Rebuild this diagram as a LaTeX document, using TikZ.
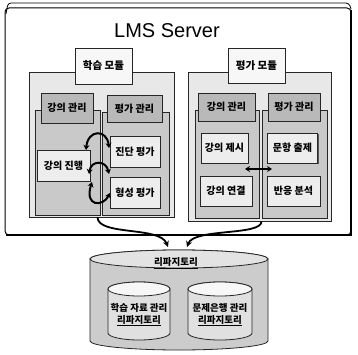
\documentclass[tikz,border=0pt]{standalone}
\usepackage{fontspec}
\setmainfont{Liberation Sans}
\newfontfamily\kr{Noto Sans CJK KR}
\usetikzlibrary{arrows.meta,shadows}
\begin{document}
\begin{tikzpicture}[x=1pt,y=-1pt,
  box/.style={draw=black!85, line width=0.6pt, inner sep=0pt,
    font=\kr\bfseries\fontsize{10}{11}\selectfont,
    drop shadow={shadow xshift=1.2pt, shadow yshift=-1.2pt, fill=black!65, opacity=1}},
  panel/.style={box, fill=gray!18},
  column/.style={box, fill=gray!42},
  hdr/.style={box, fill=gray!55},
  item/.style={box, fill=gray!14},
  tab/.style={box, fill=gray!6, font=\kr\bfseries\fontsize{10.5}{12}\selectfont},
  lbl/.style={inner sep=0pt, font=\kr\bfseries\fontsize{9.5}{10.5}\selectfont, align=center},
  flow/.style={line width=2pt, {Stealth[length=5pt,width=6pt]}-{Stealth[length=5pt,width=6pt]}},
  feed/.style={line width=1.8pt, -{Stealth[length=6pt,width=6pt]}},
  cylside/.style={draw=black!85, line width=0.8pt},
]
\useasboundingbox (0,0) rectangle (358,355);

% server frame
\draw[line width=1pt, rounded corners=4pt, fill=white] (5,8) rectangle (351,235);
\draw[line width=2pt] (6,235) -- (351,235) -- (351,10);
\draw[line width=0.8pt, rounded corners=3pt] (6,14) -- (8,3) -- (349,3) -- (351,9);
\node[font=\fontsize{20}{22}\selectfont, inner sep=0pt] (title) at (167,31) {LMS Server};

% learning module
\node[panel, minimum width=145pt, minimum height=145pt] (lpanel) at (101.5,144.5) {};
\node[column, minimum width=65pt, minimum height=105pt] (lcolL) at (67.5,162.5) {};
\node[column, minimum width=67pt, minimum height=103pt] (lcolR) at (135.5,163.5) {};
\node[hdr, minimum width=52pt, minimum height=30pt] (lh1) at (67,108) {강의 관리};
\node[hdr, minimum width=55pt, minimum height=27pt] (lh2) at (134.5,108.5) {평가 관리};
\node[item, minimum width=50pt, minimum height=31pt] (li1) at (135,151.5) {진단 평가};
\node[item, minimum width=53pt, minimum height=31pt] (li2) at (63.5,165.5) {강의 진행};
\node[item, minimum width=50pt, minimum height=31pt] (li3) at (135,192.5) {형성 평가};
\node[tab, minimum width=57pt, minimum height=36pt] (ltab) at (103.5,66) {학습 모듈};

\coordinate (a1) at (86,150);
\coordinate (a2) at (109,148);
\coordinate (b1) at (89,174);
\coordinate (b2) at (109,174);
\coordinate (c1) at (92,182);
\coordinate (c2) at (110,193);
\draw[flow] (a1) .. controls (88,129) and (107,129) .. (a2);
\draw[flow] (b1) .. controls (91,160) and (106,160) .. (b2);
\draw[flow] (c1) .. controls (84,207) and (103,207) .. (c2);

% evaluation module
\node[panel, minimum width=143pt, minimum height=149pt] (rpanel) at (259.5,146.5) {};
\node[column, minimum width=64pt, minimum height=108pt] (rcolL) at (227,164) {};
\node[column, minimum width=65pt, minimum height=108pt] (rcolR) at (294.5,164) {};
\node[hdr, minimum width=57pt, minimum height=28pt] (rh1) at (226.5,107) {강의 관리};
\node[hdr, minimum width=52pt, minimum height=28pt] (rh2) at (294,107) {평가 관리};
\node[item, minimum width=47pt, minimum height=30pt] (ri1) at (224.5,148) {강의 제시};
\node[item, minimum width=50pt, minimum height=30pt] (ri2) at (292.5,148) {문항 출제};
\node[item, minimum width=52pt, minimum height=30pt] (ri3) at (226,191) {강의 연결};
\node[item, minimum width=53pt, minimum height=30pt] (ri4) at (293.5,191) {반응 분석};
\node[tab, minimum width=57pt, minimum height=35pt] (rtab) at (256.5,65.5) {평가 모듈};

\coordinate (d1) at (245,169);
\coordinate (d2) at (272,169);
\draw[flow] (d1) -- (d2);

% repository
\draw[cylside, fill=gray!40] (90,259) -- (90,341)
  arc[start angle=180, end angle=360, x radius=89pt, y radius=9pt]
  -- (268,259)
  arc[start angle=0, end angle=180, x radius=89pt, y radius=9pt] -- cycle;
\draw[cylside, fill=gray!22] (179,259) ellipse[x radius=89pt, y radius=9pt];

\draw[cylside, fill=gray!24] (108,289) -- (108,333)
  arc[start angle=180, end angle=360, x radius=31pt, y radius=7pt]
  -- (170,289)
  arc[start angle=0, end angle=180, x radius=31pt, y radius=7pt] -- cycle;
\draw[cylside, fill=gray!6] (139,289) ellipse[x radius=31pt, y radius=7pt];

\draw[cylside, fill=gray!24] (188,289) -- (188,333)
  arc[start angle=180, end angle=360, x radius=32pt, y radius=7pt]
  -- (252,289)
  arc[start angle=0, end angle=180, x radius=32pt, y radius=7pt] -- cycle;
\draw[cylside, fill=gray!6] (220,289) ellipse[x radius=32pt, y radius=7pt];

\node[lbl] (repo) at (176,263) {\underline{리파지토리}};
\node[lbl] (repoA) at (139,315) {학습 자료 관리\\[1pt]\underline{리파지토리}};
\node[lbl] (repoB) at (220,315) {문제은행 관리\\[1pt]\underline{리파지토리}};

\coordinate (inL) at (168,247);
\coordinate (inR) at (187,247);
\draw[feed] ([xshift=-4pt]lpanel.south) .. controls (98,236) and (160,226) .. (inL);
\draw[feed] ([xshift=2pt]rpanel.south) .. controls (262,236) and (194,228) .. (inR);
\end{tikzpicture}
\end{document}
